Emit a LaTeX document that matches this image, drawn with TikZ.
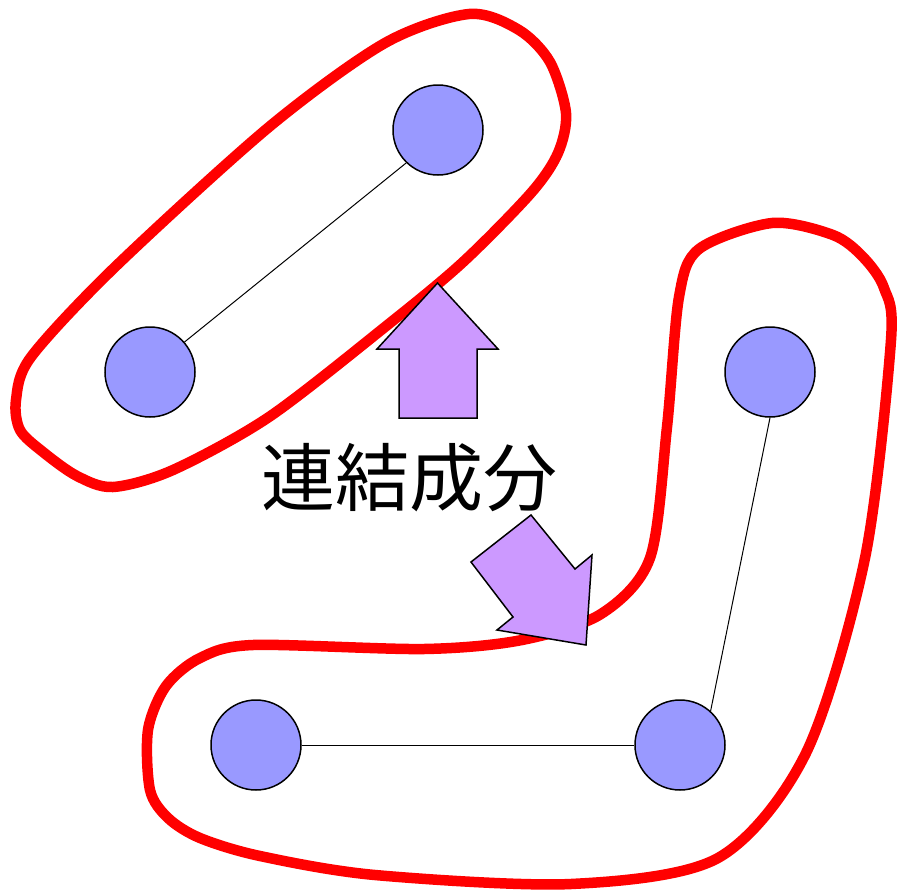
\documentclass[tikz,border=0pt]{standalone}
\usepackage{fontspec}
\newfontfamily\cjk{Noto Sans CJK JP}
\definecolor{vfill}{HTML}{9999FF}
\definecolor{afill}{HTML}{CC99FF}
\definecolor{loopred}{HTML}{FF0000}
\begin{document}
\begin{tikzpicture}[x=1pt,y=-1pt,
  vertex/.style={circle,draw=black,line width=1.5pt,fill=vfill,minimum size=90pt,inner sep=0pt},
  edge/.style={draw=black,line width=1pt},
  loopline/.style={draw=loopred,line width=10.5pt,line join=round},
  bigarrow/.style={draw=black,fill=afill,line width=1.5pt,line join=miter}]
\useasboundingbox (0,0) rectangle (898,892);
% red loops
\draw[loopline] plot[smooth cycle,tension=0.5] coordinates {
 (469,14) (519,30) (550,62) (566,113) (558,153) (531,193) (462,263) (385,327) (269,417)
 (173,470) (113,487) (77,476) (43,452) (20,430) (16,400) (31,357) (115,267) (269,127) (385,43)};
\draw[loopline] plot[smooth cycle,tension=0.5] coordinates {
 (772,223) (699,249) (679,297) (667,427) (650,558) (601,614) (522,640) (424,649)
 (253,645) (200,658) (166,686) (148,730) (150,790) (168,818) (200,838) (260,856) (375,875) (571,884) (718,858)
 (806,753) (865,558) (891,340) (884,288) (863,257) (833,235)};
% vertices
\node[vertex] (a) at (438,130) {};
\node[vertex] (b) at (150,372) {};
\node[vertex] (c) at (770,372) {};
\node[vertex] (d) at (256,745) {};
\node[vertex] (e) at (680,745) {};
\draw[edge] (a.226) -- (b.41);
\draw[edge] (c.south) -- (e.48);
\draw[edge] (d) -- (e);
% arrows
\draw[bigarrow] (437.5,283) -- (498,349) -- (477,349) -- (477,418) -- (399,418) -- (399,349) -- (377,349) -- cycle;
\draw[bigarrow] (531,515) -- (575,569) -- (592,555) -- (586,645) -- (497,630) -- (513,617) -- (471,562) -- cycle;
% label
\node[font=\cjk\fontsize{74}{80}\selectfont,inner sep=0pt] (lbl) at (409,478) {連結成分};
\end{tikzpicture}
\end{document}
